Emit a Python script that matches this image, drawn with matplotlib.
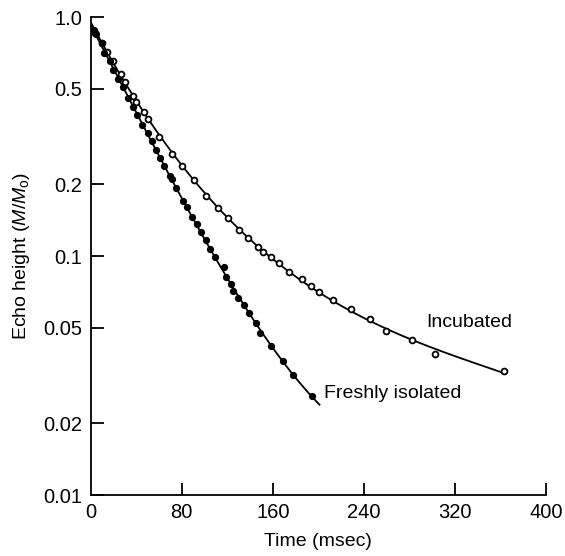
import matplotlib.pyplot as plt
import numpy as np

plt.rcParams.update({
    "font.family": "Liberation Sans",
    "font.size": 14,
    "mathtext.fontset": "custom",
    "mathtext.rm": "Liberation Sans",
    "mathtext.it": "Liberation Sans:italic",
})

# Incubated (open circles)
inc_t = [4, 10, 14.6, 19.9, 26.4, 30.1, 37.4, 39.8, 47.1, 50.6, 60.3, 71.3,
         80.5, 91.0, 101, 111.8, 121, 130.6, 138.5, 146.7, 151.1, 158.4,
         165.2, 174.5, 185.4, 193.3, 200.9, 212.7, 228.7, 245.2, 259.8,
         282.3, 302.8, 363.4]
inc_y = [0.86, 0.78, 0.716, 0.656, 0.576, 0.536, 0.467, 0.442, 0.399, 0.373,
         0.316, 0.268, 0.237, 0.207, 0.179, 0.159, 0.144, 0.129, 0.119, 0.109,
         0.104, 0.099, 0.0938, 0.0857, 0.0799, 0.0751, 0.0705, 0.0653, 0.0598,
         0.0547, 0.0487, 0.0445, 0.0388, 0.0330]

# Freshly isolated (filled dots)
fr_t = [2.9, 4.7, 9.7, 11.7, 17.0, 19.3, 24.3, 28.1, 33.0, 36.9, 41.0, 44.8,
        50.1, 53.6, 57.4, 60.9, 64.7, 69.7, 71.7, 75.2, 80.8, 84.5, 89.3,
        93.1, 96.9, 101, 104.6, 109, 116.9, 118.6, 123.3, 125, 129.2, 135,
        139.1, 145, 149, 158.7, 168.7, 178, 194.7]
fr_y = [0.882, 0.846, 0.776, 0.709, 0.656, 0.600, 0.549, 0.511, 0.457, 0.421,
        0.389, 0.353, 0.326, 0.302, 0.278, 0.256, 0.239, 0.217, 0.210, 0.192,
        0.170, 0.161, 0.146, 0.136, 0.126, 0.117, 0.107, 0.0993, 0.0902,
        0.0819, 0.0761, 0.0716, 0.0669, 0.0624, 0.0576, 0.0526, 0.0476,
        0.0421, 0.0365, 0.0317, 0.0259]

y_ticks = [0.01, 0.02, 0.05, 0.1, 0.2, 0.5, 1.0]
y_labels = ["0.01", "0.02", "0.05", "0.1", "0.2", "0.5", "1.0"]
x_ticks = [0, 80, 160, 240, 320, 400]


def fitted(t, y, t_end, deg=3):
    # smooth fit of log(height) against time
    coef = np.polyfit(t, np.log10(y), deg)
    tt = np.linspace(0, t_end, 300)
    return tt, 10 ** np.polyval(coef, tt)


fig = plt.figure(figsize=(5.65, 5.56), dpi=100)
ax = fig.add_axes([0.1605, 0.1097, 0.8059, 0.8597])

tt, yy = fitted(inc_t, inc_y, 362)
ax.plot(tt, yy, color="black", lw=1.3)
tt, yy = fitted(fr_t, fr_y, 201)
ax.plot(tt, yy, color="black", lw=1.3)

ax.plot(inc_t, inc_y, "o", ms=4.2, mfc="white", mec="black", mew=1.3)
ax.plot(fr_t, fr_y, "o", ms=4.2, mfc="black", mec="black")

ax.set_yscale("log")
ax.set_xlim(0, 400)
ax.set_ylim(0.01, 1.0)
ax.set_yticks(y_ticks)
ax.set_yticklabels(y_labels)
ax.minorticks_off()
ax.set_xticks(x_ticks)

ax.tick_params(direction="in", length=9, width=1.3, pad=6, labelsize=14.5)
ax.xaxis.get_major_ticks()[0].tick1line.set_visible(False)

for side in ("top", "right"):
    ax.spines[side].set_visible(False)
for side in ("left", "bottom"):
    ax.spines[side].set_linewidth(1.3)

ax.set_xlabel("Time (msec)", labelpad=8)
ax.set_ylabel(r"Echo height ($\mathit{M}/\mathit{M}_{\mathrm{o}}$)", labelpad=8)

ax.text(333, 0.0525, "Incubated", ha="center", va="center")
ax.text(205, 0.0267, "Freshly isolated", ha="left", va="center")

fig.savefig("out.png", dpi=100)
